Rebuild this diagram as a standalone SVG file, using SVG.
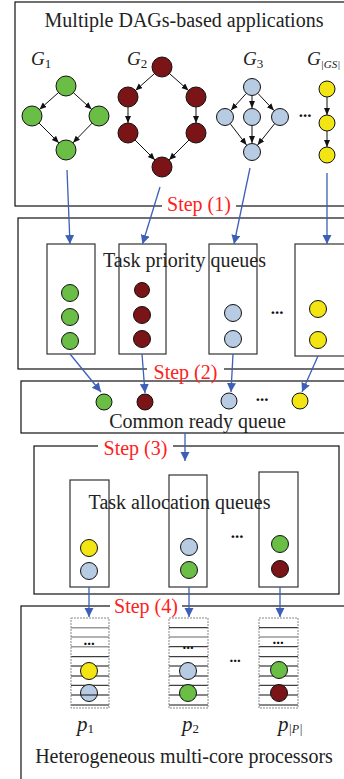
<svg xmlns="http://www.w3.org/2000/svg" width="344" height="779" viewBox="0 0 344 779" font-family="'Liberation Serif', 'Times New Roman', Times, serif">
<style>
text{font-family:'Liberation Serif','Times New Roman',Times,serif;fill:#222}
.t{font-size:20px;text-anchor:middle}
.st{font-size:20px;fill:#ff2020;text-anchor:middle}
.it{font-style:italic;font-size:19px}
.sub{font-size:13px;font-style:normal}
.subi{font-size:12px;font-style:italic}
.dots{font-size:17px;font-weight:bold;text-anchor:middle;fill:#111}
.box{fill:none;stroke:#111;stroke-width:1.2}
.q{fill:none;stroke:#333;stroke-width:1.2}
.gap{fill:#fff;stroke:none}
circle{stroke:#111;stroke-width:1}
.g{fill:#6abd45}.r{fill:#7a1416}.b{fill:#b7cbe3}.y{fill:#f3e514}
.e{stroke:#111;stroke-width:1;fill:none;marker-end:url(#ak)}
.c{stroke:#3d5fb5;stroke-width:1.3;fill:none;marker-end:url(#ab)}
.pl{stroke:#111;stroke-width:1}
.pg{stroke:#999;stroke-width:1.6}
.ps{stroke:#888;stroke-width:1;stroke-dasharray:2,1;fill:none}
</style>
<defs>
<marker id="ab" markerWidth="10" markerHeight="10" refX="9" refY="4.5" orient="auto" markerUnits="userSpaceOnUse"><path d="M0,0 L9,4.5 L0,9 z" fill="#3d5fb5"/></marker>
<marker id="ak" markerWidth="8" markerHeight="8" refX="7" refY="3" orient="auto" markerUnits="userSpaceOnUse"><path d="M0,0 L7,3 L0,6 z" fill="#111"/></marker>
</defs>

<!-- Box 1: DAG applications -->
<g id="dag-apps">
<rect class="box" x="15" y="2" width="340" height="204"/>
<text class="t" x="184" y="27">Multiple DAGs-based applications</text>
<g id="G1">
<text class="it" x="31" y="65">G<tspan class="sub" dy="3">1</tspan></text>
<line class="e" x1="58.5" y1="92.6" x2="39.5" y2="109.4"/>
<line class="e" x1="73.4" y1="92.7" x2="91.6" y2="109.3"/>
<line class="e" x1="39.1" y1="123.1" x2="58.9" y2="142.9"/>
<line class="e" x1="92" y1="123.2" x2="73" y2="142.8"/>
<circle class="g" cx="66" cy="86" r="10"/>
<circle class="g" cx="32" cy="116" r="10"/>
<circle class="g" cx="99" cy="116" r="10"/>
<circle class="g" cx="66" cy="150" r="10"/>
</g>
<g id="G2">
<text class="it" x="127" y="65">G<tspan class="sub" dy="3">2</tspan></text>
<line class="e" x1="154.5" y1="73.6" x2="135.5" y2="90.4"/>
<line class="e" x1="169.5" y1="73.6" x2="188.5" y2="90.4"/>
<line class="e" x1="128" y1="107" x2="128" y2="123"/>
<line class="e" x1="196" y1="107" x2="196" y2="123"/>
<line class="e" x1="135.1" y1="140.1" x2="154.9" y2="159.9"/>
<line class="e" x1="188.9" y1="140.1" x2="169.1" y2="159.9"/>
<circle class="r" cx="162" cy="67" r="10"/>
<circle class="r" cx="128" cy="97" r="10"/>
<circle class="r" cx="196" cy="97" r="10"/>
<circle class="r" cx="128" cy="133" r="10"/>
<circle class="r" cx="196" cy="133" r="10"/>
<circle class="r" cx="162" cy="167" r="10"/>
</g>
<g id="G3">
<text class="it" x="243" y="65">G<tspan class="sub" dy="3">3</tspan></text>
<line class="e" x1="246" y1="93.7" x2="231" y2="110.3"/>
<line class="e" x1="252" y1="96" x2="252" y2="108"/>
<line class="e" x1="258.1" y1="93.6" x2="273.9" y2="110.4"/>
<line class="e" x1="230.5" y1="124.1" x2="246.5" y2="144.9"/>
<line class="e" x1="252" y1="126" x2="252" y2="143"/>
<line class="e" x1="274.4" y1="124" x2="257.6" y2="145"/>
<circle class="b" cx="252" cy="87" r="8.5"/>
<circle class="b" cx="225" cy="117" r="8.5"/>
<circle class="b" cx="252" cy="117" r="8.5"/>
<circle class="b" cx="280" cy="117" r="8.5"/>
<circle class="b" cx="252" cy="152" r="8.5"/>
</g>
<text class="dots" x="305" y="117">...</text>
<g id="GGS">
<text class="it" x="307" y="65">G<tspan class="subi" dy="3" style="font-size:11px">|GS|</tspan></text>
<line class="e" x1="327" y1="97" x2="327" y2="115"/>
<line class="e" x1="327" y1="131" x2="327" y2="147"/>
<circle class="y" cx="327" cy="89" r="8"/>
<circle class="y" cx="327" cy="123" r="8"/>
<circle class="y" cx="327" cy="155" r="8"/>
</g>
</g>

<!-- Box 2: task priority queues -->
<g id="priority-queues">
<rect class="box" x="18" y="218" width="340" height="151"/>
<rect class="q" x="47" y="244" width="48" height="110"/>
<rect class="q" x="119" y="244" width="47" height="110"/>
<rect class="q" x="209" y="244" width="48" height="110"/>
<rect class="q" x="295" y="244" width="60" height="112"/>
<text class="t" x="184.5" y="267">Task priority queues</text>
<circle class="g" cx="70" cy="293" r="8.5"/>
<circle class="g" cx="70" cy="317" r="8.5"/>
<circle class="g" cx="70" cy="341" r="8.5"/>
<circle class="r" cx="142" cy="290" r="7.5"/>
<circle class="r" cx="142" cy="315" r="8.5"/>
<circle class="r" cx="142" cy="339" r="8.5"/>
<circle class="b" cx="233" cy="313" r="8.5"/>
<circle class="b" cx="233" cy="339" r="8.5"/>
<text class="dots" x="277" y="314">...</text>
<circle class="y" cx="318" cy="309" r="8.5"/>
<circle class="y" cx="318" cy="340" r="8.5"/>
</g>

<!-- Common ready queue -->
<g id="ready-queue">
<rect class="box" x="21" y="381" width="340" height="52"/>
<circle class="g" cx="104" cy="402" r="8"/>
<circle class="r" cx="145" cy="402" r="8"/>
<circle class="b" cx="229" cy="401" r="8"/>
<text class="dots" x="262" y="401">...</text>
<circle class="y" cx="300" cy="401" r="8"/>
<text class="t" x="197.5" y="428">Common ready queue</text>
</g>

<!-- Task allocation queues -->
<g id="allocation-queues">
<rect class="box" x="34" y="446" width="305" height="148"/>
<rect class="q" x="70" y="480" width="39" height="107"/>
<rect class="q" x="169" y="475" width="38" height="112"/>
<rect class="q" x="259" y="472" width="39" height="115"/>
<text class="t" x="179.5" y="509">Task allocation queues</text>
<circle class="y" cx="89" cy="548" r="8.5"/>
<circle class="b" cx="89" cy="571" r="8.5"/>
<circle class="b" cx="189" cy="547" r="8.5"/>
<circle class="g" cx="189" cy="570" r="8.5"/>
<text class="dots" x="237" y="538">...</text>
<circle class="g" cx="280" cy="544" r="8.5"/>
<circle class="r" cx="280" cy="569" r="8.5"/>
</g>

<!-- Processors -->
<g id="processors">
<rect class="box" x="21" y="606" width="340" height="190"/>
<g id="p1">
<line class="pg" x1="71" y1="627.7" x2="109" y2="627.7"/>
<line class="pg" x1="71" y1="637" x2="109" y2="637"/>
<line class="pg" x1="71" y1="646.7" x2="109" y2="646.7"/>
<line class="pl" x1="71" y1="656.7" x2="109" y2="656.7"/>
<line class="pl" x1="71" y1="666" x2="109" y2="666"/>
<line class="pl" x1="71" y1="676" x2="109" y2="676"/>
<line class="pl" x1="71" y1="685.3" x2="109" y2="685.3"/>
<line class="pl" x1="71" y1="705" x2="109" y2="705"/>
<text class="dots" x="89" y="645" style="font-size:15px">...</text>
<circle class="y" cx="89" cy="671" r="8.5"/>
<circle class="b" cx="89" cy="693" r="8.5"/>
<line class="pl" x1="71" y1="695" x2="109" y2="695"/>
<rect class="ps" x="71" y="618" width="38" height="90"/>
<text class="it" x="77" y="731" style="font-size:21px">p<tspan class="sub" dy="2">1</tspan></text>
</g>
<g id="p2">
<line class="pl" x1="169" y1="627.7" x2="208" y2="627.7"/>
<line class="pg" x1="169" y1="637" x2="208" y2="637"/>
<line class="pl" x1="169" y1="646.7" x2="208" y2="646.7"/>
<line class="pl" x1="169" y1="656.7" x2="208" y2="656.7"/>
<line class="pl" x1="169" y1="666" x2="208" y2="666"/>
<line class="pl" x1="169" y1="676" x2="208" y2="676"/>
<line class="pl" x1="169" y1="685.3" x2="208" y2="685.3"/>
<line class="pl" x1="169" y1="695" x2="208" y2="695"/>
<line class="pl" x1="169" y1="705" x2="208" y2="705"/>
<text class="dots" x="188" y="649" style="font-size:15px">...</text>
<circle class="b" cx="188" cy="671" r="8.5"/>
<circle class="g" cx="188" cy="693" r="8.5"/>
<rect class="ps" x="169" y="618" width="39" height="90"/>
<text class="it" x="182" y="731" style="font-size:21px">p<tspan class="sub" dy="2">2</tspan></text>
</g>
<text class="dots" x="235" y="662" style="font-size:15px">...</text>
<g id="p3">
<line class="pl" x1="259" y1="627.7" x2="298" y2="627.7"/>
<line class="pg" x1="259" y1="637" x2="298" y2="637"/>
<line class="pl" x1="259" y1="646.7" x2="298" y2="646.7"/>
<line class="pl" x1="259" y1="656.7" x2="298" y2="656.7"/>
<line class="pl" x1="259" y1="666" x2="298" y2="666"/>
<line class="pl" x1="259" y1="676" x2="298" y2="676"/>
<line class="pl" x1="259" y1="685.3" x2="298" y2="685.3"/>
<line class="pl" x1="259" y1="695" x2="298" y2="695"/>
<line class="pl" x1="259" y1="705" x2="298" y2="705"/>
<text class="dots" x="278" y="644" style="font-size:15px">...</text>
<circle class="g" cx="279" cy="670" r="8.5"/>
<circle class="r" cx="279" cy="693" r="8.5"/>
<rect class="ps" x="259" y="618" width="39" height="90"/>
<text class="it" x="278" y="731" style="font-size:21px">p<tspan class="subi" dy="2">|P|</tspan></text>
</g>
<text class="t" x="184" y="763">Heterogeneous multi-core processors</text>
</g>

<!-- Connectors -->
<g id="connectors">
<line class="c" x1="67" y1="170" x2="70" y2="244"/>
<line class="c" x1="160" y1="187" x2="142.5" y2="244"/>
<line class="c" x1="250" y1="168" x2="234" y2="244"/>
<line class="c" x1="327" y1="173" x2="327" y2="244"/>
<line class="c" x1="70" y1="354" x2="101" y2="392"/>
<line class="c" x1="142" y1="354" x2="145" y2="393"/>
<line class="c" x1="233" y1="354" x2="231" y2="392"/>
<line class="c" x1="318" y1="356" x2="302" y2="392"/>
<line class="c" x1="185" y1="433" x2="185" y2="461"/>
<line class="c" x1="89" y1="587" x2="89" y2="617"/>
<line class="c" x1="189" y1="587" x2="189" y2="617"/>
<line class="c" x1="280" y1="587" x2="280" y2="617"/>
</g>

<!-- Step labels -->
<g id="steps">
<rect class="gap" x="162" y="200" width="74" height="12"/>
<text class="st" x="199" y="211">Step (1)</text>
<rect class="gap" x="147" y="364" width="77" height="10"/>
<text class="st" x="185.5" y="379">Step (2)</text>
<rect class="gap" x="98" y="440" width="75" height="12"/>
<text class="st" x="135.5" y="455">Step (3)</text>
<rect class="gap" x="110" y="600" width="72" height="12"/>
<text class="st" x="146" y="613">Step (4)</text>
</g>
</svg>
